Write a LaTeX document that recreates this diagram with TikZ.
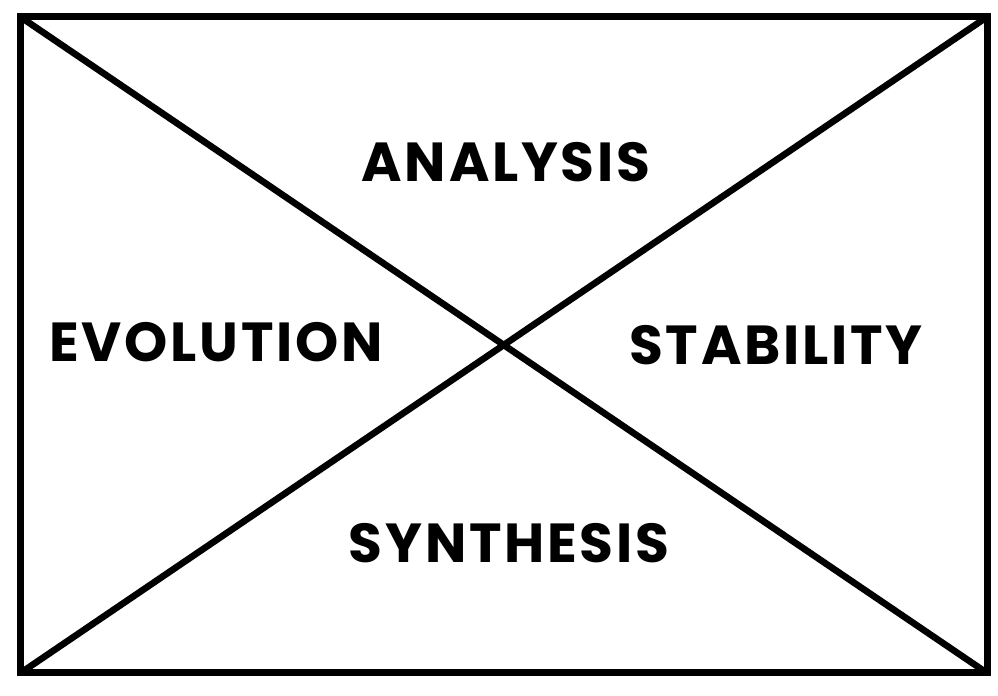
\documentclass[tikz,border=0pt]{standalone}
\usepackage{fontspec}
\setmainfont{Poppins}[LetterSpace=5]
\begin{document}
\begin{tikzpicture}[x=0.5pt,y=0.5pt]
        \useasboundingbox (0,0) rectangle (998,696);
        \tikzset{word/.style={font=\fontsize{27.5}{30}\selectfont\bfseries, inner sep=0pt}}

        \coordinate (tl) at (20.5,679);
        \coordinate (tr) at (987,679);
        \coordinate (bl) at (20.5,23);
        \coordinate (br) at (987,23);

        \path[draw,line width=3.5pt,line join=miter] (tl) -- (tr) -- (br) -- (bl) -- cycle;
        \path[draw,line width=3.3pt] (tl) -- (br);
        \path[draw,line width=3.3pt] (bl) -- (tr);

        \node[word] (analysis) at (506,534) {ANALYSIS};
        \node[word] (evolution) at (216,354) {EVOLUTION};
        \node[word] (stability) at (776,351) {STABILITY};
        \node[word] (synthesis) at (509,153) {SYNTHESIS};
    \end{tikzpicture}
\end{document}
